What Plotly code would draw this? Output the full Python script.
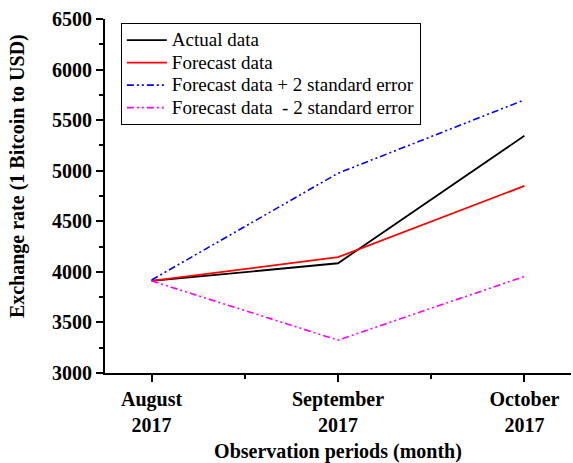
import plotly.graph_objects as go

months = ["August<br>2017", "September<br>2017", "October<br>2017"]
actual = [3910, 4085, 5345]
forecast = [3910, 4145, 4850]
upper = [3920, 4975, 5700]
lower = [3910, 3325, 3955]
names = ["Actual data", "Forecast data", "Forecast data + 2 standard error",
         "Forecast data  - 2 standard error"]

x_idx = list(range(len(months)))
FONT = "Liberation Serif"
dashdotdot = "7px,3px,2px,3px,2px,3px"

def lbl(s):
    return "<span style='font-size:19px'>" + s + "</span>"

fig = go.Figure()
fig.add_trace(go.Scatter(x=x_idx, y=actual, mode="lines", name=lbl(names[0]),
                         line=dict(color="black", width=1.8)))
fig.add_trace(go.Scatter(x=x_idx, y=forecast, mode="lines", name=lbl(names[1]),
                         line=dict(color="red", width=1.8)))
fig.add_trace(go.Scatter(x=x_idx, y=upper, mode="lines", name=lbl(names[2]),
                         line=dict(color="blue", width=1.6, dash=dashdotdot)))
fig.add_trace(go.Scatter(x=x_idx, y=lower, mode="lines", name=lbl(names[3]),
                         line=dict(color="magenta", width=1.6, dash=dashdotdot)))

xr = [-0.25, 2.25]
yr = [3000, 6500]
ymaj = [3000, 3500, 4000, 4500, 5000, 5500, 6000, 6500]
ymin = [3250, 3750, 4250, 4750, 5250, 5750, 6250]

fig.update_layout(
    width=573, height=463,
    margin=dict(l=105, r=2, t=19, b=90),
    paper_bgcolor="white", plot_bgcolor="white",
    font=dict(family=FONT, color="black"),
    showlegend=True,
    legend=dict(x=0.034, y=0.989, xanchor="left", yanchor="top",
                bgcolor="white", bordercolor="black", borderwidth=1,
                font=dict(family=FONT, size=15, color="black"),
                tracegroupgap=0, itemwidth=40),
    xaxis=dict(range=xr, tickmode="array", tickvals=x_idx, ticktext=months, automargin=False,
               showgrid=False, zeroline=False, showline=True, linecolor="black", linewidth=2,
               ticks="outside", ticklen=7, tickwidth=1.5, tickcolor="black",
               minor=dict(tickvals=[0.5, 1.5], ticks="outside", ticklen=4, tickwidth=1.5, tickcolor="black"),
               tickfont=dict(family=FONT, size=20, color="black", weight="bold"),
               title=dict(text="<b>Observation periods (month)</b>", font=dict(family=FONT, size=20, color="black"), standoff=12)),
    yaxis=dict(range=yr, tickmode="array", tickvals=ymaj, automargin=False,
               showgrid=False, zeroline=False, showline=True, linecolor="black", linewidth=2,
               ticks="outside", ticklen=7, tickwidth=1.5, tickcolor="black",
               minor=dict(tickvals=ymin, ticks="outside", ticklen=4, tickwidth=1.5, tickcolor="black"),
               tickfont=dict(family=FONT, size=20, color="black", weight="bold")),
    xaxis2=dict(range=xr, overlaying="x", side="top", anchor="y", showticklabels=False, automargin=False,
                tickmode="array", tickvals=x_idx, showgrid=False, zeroline=False,
                showline=True, linecolor="black", linewidth=1.5,
                ticks="inside", ticklen=6, tickwidth=1.5, tickcolor="black",
                minor=dict(tickvals=[0.5, 1.5], ticks="inside", ticklen=4, tickwidth=1.5, tickcolor="black")),
    yaxis2=dict(range=yr, overlaying="y", side="right", anchor="x", showticklabels=False, automargin=False,
                tickmode="array", tickvals=ymaj,
                showgrid=False, zeroline=False, showline=True, linecolor="black", linewidth=1.5,
                ticks="inside", ticklen=6, tickwidth=1.5, tickcolor="black",
                minor=dict(tickvals=ymin, ticks="inside", ticklen=4, tickwidth=1.5, tickcolor="black")),
    annotations=[dict(text="<b>Exchange rate (1 Bitcoin to USD)</b>", textangle=-90,
                      xref="paper", yref="paper", x=-0.189, y=0.556, xanchor="center", yanchor="middle",
                      showarrow=False, font=dict(family=FONT, size=20, color="black"))],
)

fig.write_html("out.html", config={"displayModeBar": False},
               post_script="document.body.style.margin='0px';")
